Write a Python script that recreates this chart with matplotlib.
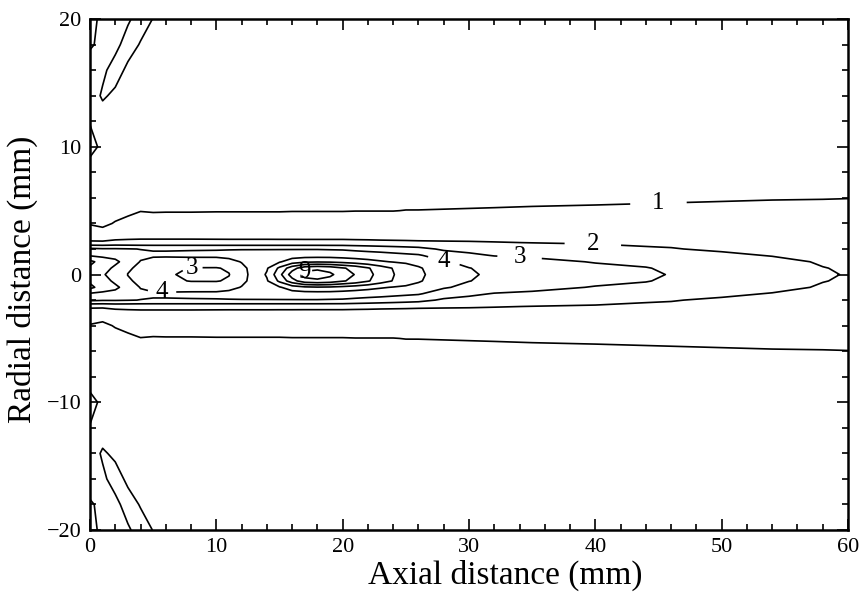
import numpy as np
import matplotlib
matplotlib.use('Agg')
import matplotlib.pyplot as plt

plt.rcParams['font.family'] = ['Liberation Serif', 'DejaVu Serif']

# axial stations (mm) and radial stations (mm, upper half; field is mirrored about r = 0)
axial_mm = [0, 1, 2, 3, 4, 5, 6, 8, 10, 11, 12, 13, 14, 15, 16, 17, 18, 19, 20,
            21, 22, 23, 24, 25, 26, 28, 30, 32, 35, 40, 44, 46, 50, 54, 58, 60]
radial_mm = [0, 0.5, 1.0, 1.5, 2.0, 2.5, 3.0, 4.0, 5.0, 6.0, 8.0, 10, 12, 14, 16, 18, 20]

# one radial profile per axial station
profiles = [
    [5.6, 5.8, 6.3, 4.9, 4.2, 2.2, 1.45, 0.95, 0.7, 0.6, 0.55, 1.3, 0.95, 0.6, 0.6, 1.1, 1.4],
    [5.1, 5.4, 5.5, 4.8, 4.1, 2.2, 1.35, 0.85, 0.65, 0.55, 0.5, 0.8, 0.6, 1.1, 0.85, 0.8, 0.7],
    [4.6, 4.8, 5.2, 4.7, 4.1, 2.3, 1.6, 1.05, 0.75, 0.6, 0.5, 0.5, 0.45, 0.85, 1.3, 0.8, 0.6],
    [3.97, 4.15, 4.6, 4.5, 4.05, 2.3, 1.7, 1.2, 0.85, 0.65, 0.55, 0.5, 0.45, 0.4, 0.85, 1.3, 0.9],
    [3.6, 3.75, 3.95, 4.2, 3.98, 2.3, 1.75, 1.3, 0.98, 0.75, 0.55, 0.45, 0.4, 0.35, 0.4, 0.95, 1.3],
    [3.3, 3.45, 3.75, 4.1, 3.95, 2.3, 1.75, 1.3, 0.95, 0.78, 0.6, 0.5, 0.45, 0.4, 0.35, 0.4, 0.98],
    [3.1, 3.25, 3.7, 4.1, 3.95, 2.3, 1.75, 1.3, 0.96, 0.78, 0.6, 0.5, 0.45, 0.4, 0.35, 0.3, 0.3],
    [2.85, 2.95, 3.65, 4.15, 3.95, 2.3, 1.75, 1.3, 0.96, 0.78, 0.6, 0.5, 0.45, 0.4, 0.35, 0.3, 0.3],
    [2.85, 2.95, 3.55, 4.2, 3.95, 2.3, 1.73, 1.3, 0.97, 0.8, 0.6, 0.5, 0.45, 0.4, 0.35, 0.3, 0.3],
    [2.97, 3.1, 3.7, 4.3, 3.95, 2.3, 1.72, 1.3, 0.97, 0.8, 0.6, 0.5, 0.45, 0.4, 0.35, 0.3, 0.3],
    [3.6, 3.75, 4.05, 4.4, 3.95, 2.3, 1.72, 1.3, 0.97, 0.8, 0.6, 0.5, 0.45, 0.4, 0.35, 0.3, 0.3],
    [4.4, 4.35, 4.3, 4.42, 3.95, 2.3, 1.72, 1.3, 0.97, 0.8, 0.6, 0.5, 0.45, 0.4, 0.35, 0.3, 0.3],
    [5.1, 4.9, 4.5, 4.45, 3.95, 2.3, 1.72, 1.3, 0.97, 0.8, 0.6, 0.5, 0.45, 0.4, 0.35, 0.3, 0.3],
    [6.7, 6.2, 4.9, 4.5, 3.95, 2.3, 1.71, 1.3, 0.97, 0.8, 0.6, 0.5, 0.45, 0.4, 0.35, 0.3, 0.3],
    [8.5, 7.6, 5.5, 4.55, 3.95, 2.3, 1.71, 1.3, 0.98, 0.8, 0.6, 0.5, 0.45, 0.4, 0.35, 0.3, 0.3],
    [9.4, 8.6, 5.8, 4.6, 3.95, 2.3, 1.7, 1.3, 0.98, 0.8, 0.6, 0.5, 0.45, 0.4, 0.35, 0.3, 0.3],
    [9.5, 8.8, 5.9, 4.6, 3.95, 2.3, 1.7, 1.3, 0.98, 0.8, 0.6, 0.5, 0.45, 0.4, 0.35, 0.3, 0.3],
    [9.2, 8.6, 5.85, 4.6, 3.92, 2.3, 1.7, 1.3, 0.98, 0.8, 0.6, 0.5, 0.45, 0.4, 0.35, 0.3, 0.3],
    [8.5, 8.1, 5.7, 4.55, 3.9, 2.3, 1.7, 1.3, 0.98, 0.8, 0.6, 0.5, 0.45, 0.4, 0.35, 0.3, 0.3],
    [7.95, 7.7, 5.5, 4.5, 3.8, 2.27, 1.69, 1.3, 0.99, 0.81, 0.6, 0.5, 0.45, 0.4, 0.35, 0.3, 0.3],
    [7.3, 7.1, 5.3, 4.45, 3.7, 2.25, 1.68, 1.3, 0.99, 0.81, 0.6, 0.5, 0.45, 0.4, 0.35, 0.3, 0.3],
    [6.6, 6.45, 5.1, 4.4, 3.6, 2.22, 1.66, 1.3, 0.99, 0.82, 0.6, 0.5, 0.45, 0.4, 0.35, 0.3, 0.3],
    [6.05, 5.95, 4.95, 4.3, 3.5, 2.2, 1.65, 1.3, 0.99, 0.82, 0.6, 0.5, 0.45, 0.4, 0.35, 0.3, 0.3],
    [5.5, 5.45, 4.85, 4.2, 3.4, 2.18, 1.64, 1.3, 1.01, 0.83, 0.6, 0.5, 0.45, 0.4, 0.35, 0.3, 0.3],
    [5.15, 5.1, 4.7, 4.1, 3.3, 2.15, 1.63, 1.3, 1.01, 0.84, 0.6, 0.5, 0.45, 0.4, 0.35, 0.3, 0.3],
    [4.6, 4.45, 4.1, 3.5, 2.85, 2.12, 1.62, 1.3, 1.02, 0.85, 0.6, 0.5, 0.45, 0.4, 0.35, 0.3, 0.3],
    [4.1, 4.02, 3.75, 3.2, 2.7, 2.1, 1.6, 1.3, 1.03, 0.86, 0.6, 0.5, 0.45, 0.4, 0.35, 0.3, 0.3],
    [3.85, 3.8, 3.5, 2.95, 2.6, 2.05, 1.6, 1.3, 1.04, 0.87, 0.6, 0.5, 0.45, 0.4, 0.35, 0.3, 0.3],
    [3.6, 3.55, 3.25, 2.85, 2.55, 1.98, 1.58, 1.3, 1.06, 0.88, 0.6, 0.5, 0.45, 0.4, 0.35, 0.3, 0.3],
    [3.3, 3.2, 2.95, 2.7, 2.35, 1.9, 1.55, 1.3, 1.08, 0.9, 0.6, 0.5, 0.45, 0.4, 0.35, 0.3, 0.3],
    [3.1, 3.03, 2.85, 2.45, 2.1, 1.85, 1.52, 1.3, 1.1, 0.92, 0.6, 0.5, 0.45, 0.4, 0.35, 0.3, 0.3],
    [2.97, 2.9, 2.75, 2.4, 2.05, 1.82, 1.5, 1.3, 1.11, 0.93, 0.6, 0.5, 0.45, 0.4, 0.35, 0.3, 0.3],
    [2.75, 2.7, 2.55, 2.2, 1.85, 1.7, 1.45, 1.28, 1.13, 0.95, 0.6, 0.5, 0.45, 0.4, 0.35, 0.3, 0.3],
    [2.5, 2.45, 2.3, 1.95, 1.75, 1.62, 1.42, 1.27, 1.15, 0.97, 0.6, 0.5, 0.45, 0.4, 0.35, 0.3, 0.3],
    [2.1, 2.03, 1.9, 1.8, 1.7, 1.6, 1.42, 1.27, 1.16, 0.98, 0.6, 0.5, 0.45, 0.4, 0.35, 0.3, 0.3],
    [1.95, 1.9, 1.85, 1.78, 1.7, 1.6, 1.42, 1.27, 1.17, 0.99, 0.6, 0.5, 0.45, 0.4, 0.35, 0.3, 0.3],
]

levels = [1, 2, 3, 4, 5, 6, 7, 8, 9]
# inline level labels: (level, spot, gap in px on each side)
label_spots = [
    (1, (45, 5.4), 22),
    (2, (39.8, 2.3), 22),
    (3, (34, 1.3), 16),
    (3, (8.1, 0.55), 4),
    (4, (28, 1.0), 10),
    (4, (5.7, -1.35), 8),
    (9, (16.9, 0.3), 2),
]

# mirror the upper half to get the full radial extent
half = np.array(profiles)
r_half = np.array(radial_mm)
r_full = np.concatenate([-r_half[::-1][:-1], r_half])
z_full = np.concatenate([half[:, ::-1][:, :-1], half], axis=1)
xx, rr = np.meshgrid(axial_mm, r_full, indexing='ij')

fig = plt.figure(figsize=(8.62, 5.96), dpi=100)
ax = fig.add_axes([0.1044, 0.1107, 0.8794, 0.8573])

# one contour set per level so each can be labelled on its own
sets = {}
for lev in levels:
    sets[lev] = ax.contour(xx, rr, z_full, levels=[lev], colors='black',
                           linewidths=1.2)
for lev, spot, gap in label_spots:
    ax.clabel(sets[lev], manual=[spot], inline=True, fmt='%d',
              fontsize=18, inline_spacing=gap)
for t in ax.texts:
    t.set_rotation(0)

ax.set_xlim(0, 60)
ax.set_ylim(-20, 20)
ax.set_xticks([0, 10, 20, 30, 40, 50, 60])
ax.set_yticks([-20, -10, 0, 10, 20])
ax.set_xticks(np.arange(0, 61, 2), minor=True)
ax.set_yticks(np.arange(-20, 21, 2), minor=True)
ax.tick_params(which='both', direction='in', top=True, right=True, labelsize=16,
               width=1.2)
ax.tick_params(which='major', length=8, pad=6)
ax.tick_params(which='minor', length=4)
for s in ax.spines.values():
    s.set_linewidth(1.8)

ax.set_xlabel('Axial distance (mm)', fontsize=24)
ax.set_ylabel('Radial distance (mm)', fontsize=24)
ax.xaxis.set_label_coords(0.5475, -0.058)
ax.yaxis.set_label_coords(-0.068, 0.49)

fig.savefig('out.png', dpi=100)
